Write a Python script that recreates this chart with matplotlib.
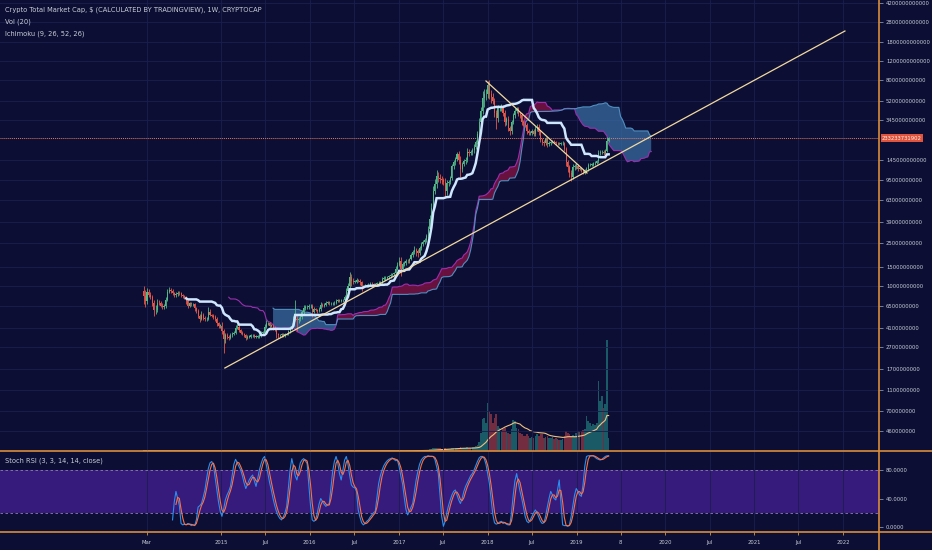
import numpy as np
import pandas as pd
import matplotlib
matplotlib.use("Agg")
import matplotlib.pyplot as plt
from matplotlib import font_manager
from matplotlib.lines import Line2D
from matplotlib.transforms import blended_transform_factory

# ---------------- data (weekly, values in billions USD) ----------------
first_week = "2014-02-17"
first_open = 9.0

close_2014 = [8.0, 7.2, 8.8, 8.3, 7.9, 6.9, 6.0, 6.0, 7.0, 6.9, 6.6, 6.4, 6.5, 7.5, 8.8, 9.2,
              9.0, 8.6, 8.2, 8.4, 8.7, 8.6, 8.2, 8.0, 7.8, 7.2, 6.6, 6.9, 6.8, 6.8, 6.2, 5.9,
              5.3, 5.0, 5.4, 5.1, 4.9, 5.0, 5.8, 5.4, 5.3, 5.2, 5.0, 4.5, 4.3, 4.3]
close_2015 = [3.8, 3.2, 3.5, 3.4, 3.3, 3.5, 3.6, 3.7, 4.1, 4.2, 3.9, 3.7, 3.6, 3.5, 3.3, 3.4,
              3.4, 3.5, 3.5, 3.4, 3.4, 3.4, 3.5, 3.7, 3.7, 4.2, 4.5, 4.5, 4.3, 4.3, 4.1, 4.0,
              3.6, 3.5, 3.5, 3.6, 3.5, 3.6, 3.6, 3.8, 4.1, 4.3, 5.0, 5.0, 4.8, 4.9, 5.2, 5.7,
              6.3, 6.4, 6.4, 6.5]
close_2016 = [6.5, 5.8, 6.1, 6.0, 5.9, 6.1, 6.7, 6.6, 6.7, 7.0, 7.1, 6.9, 6.9, 6.9, 7.0, 7.3,
              7.4, 7.3, 7.4, 7.4, 7.9, 9.0, 9.9, 12.0, 11.2, 11.0, 11.0, 11.3, 11.2, 10.8, 9.9,
              10.0, 10.1, 10.2, 10.3, 10.5, 10.4, 10.3, 10.4, 10.6, 10.7, 10.8, 11.6, 11.8,
              11.9, 12.0, 12.3, 12.7, 12.9, 13.2, 14.5, 15.8]
close_2017 = [17.0, 14.5, 16.0, 16.3, 17.2, 17.0, 17.8, 19.3, 20.5, 21.5, 21.0, 20.0, 22.5,
              24.5, 25.5, 26.5, 29.0, 34.0, 42.0, 53.0, 75.0, 88.0, 105, 100, 98, 95, 92, 76,
              90, 92, 100, 128, 140, 150, 165, 145, 120, 135, 142, 148, 175, 170, 172, 180,
              195, 215, 255, 330, 420, 550, 600, 600]
close_2018 = [720, 600, 560, 520, 400, 360, 440, 440, 450, 400, 330, 350, 290, 270, 330, 380,
              420, 430, 390, 380, 330, 320, 310, 270, 260, 260, 270, 255, 285, 295, 265, 225,
              215, 210, 230, 205, 210, 215, 220, 215, 210, 210, 208, 210, 210, 185, 140, 125,
              110, 103, 125, 128]
close_2019 = [130, 122, 122, 118, 113, 118, 122, 132, 133, 133, 137, 138, 142, 170, 172, 175,
              170, 178, 220, 233.233731902]

# wick sizes, percent beyond the candle body
upper_2014 = [12, 15, 8, 6, 5, 5, 8, 12, 8, 5, 5, 5, 4, 6, 6, 6, 4, 4, 3, 4, 4, 3, 3, 3, 3, 3,
              4, 3, 3, 3, 3, 3, 4, 5, 8, 4, 3, 4, 10, 5, 3, 4, 3, 3, 3, 4]
lower_2014 = [15, 12, 5, 4, 5, 6, 12, 8, 4, 4, 4, 5, 4, 3, 3, 3, 4, 4, 3, 3, 3, 3, 3, 3, 3, 6,
              5, 3, 3, 3, 5, 4, 5, 8, 4, 5, 4, 3, 3, 3, 3, 4, 6, 5, 4, 4]
upper_2015 = [8, 5, 6, 4, 4, 4, 4, 4, 6, 5, 3, 3, 3, 3, 3, 3, 3, 3, 3, 3, 3, 3, 3, 3, 3, 5,
              8, 4, 3, 4, 3, 3, 3, 3, 3, 3, 3, 3, 3, 3, 4, 5, 6, 50, 8, 5, 5, 6, 6, 5, 4, 4]
lower_2015 = [5, 25, 8, 5, 5, 3, 3, 3, 3, 3, 4, 3, 3, 3, 4, 3, 3, 3, 3, 3, 3, 3, 3, 3, 3, 3,
              3, 4, 4, 3, 4, 4, 8, 6, 3, 3, 3, 3, 3, 3, 3, 3, 3, 5, 20, 5, 4, 4, 4, 4, 4, 4]
upper_2016 = [4, 4, 4, 3, 3, 4, 6, 3, 4, 3, 3, 3, 3, 3, 3, 3, 3, 3, 3, 3, 5, 6, 8, 12, 8, 5,
              4, 4, 3, 3, 3, 3, 3, 3, 3, 3, 3, 3, 3, 3, 3, 3, 4, 4, 3, 3, 3, 3, 3, 3, 5, 5]
lower_2016 = [4, 10, 3, 3, 4, 3, 3, 4, 3, 3, 3, 3, 3, 3, 3, 3, 3, 3, 3, 3, 3, 3, 3, 5, 10, 5,
              4, 4, 3, 5, 10, 3, 3, 3, 3, 3, 3, 3, 3, 3, 3, 3, 3, 3, 3, 3, 3, 3, 3, 3, 3, 3]
upper_2017 = [10, 8, 5, 4, 4, 4, 3, 4, 4, 8, 5, 4, 4, 4, 4, 4, 5, 6, 8, 10, 12, 10, 12, 8, 8,
              6, 6, 8, 6, 5, 5, 6, 5, 5, 6, 8, 10, 5, 5, 5, 8, 6, 5, 5, 5, 5, 6, 8, 8, 15, 12, 10]
lower_2017 = [4, 15, 5, 4, 4, 4, 4, 3, 3, 4, 10, 8, 4, 4, 4, 4, 4, 4, 5, 6, 8, 6, 8, 8, 8, 8,
              6, 12, 8, 6, 5, 5, 5, 5, 5, 8, 15, 6, 5, 5, 5, 6, 5, 5, 5, 5, 5, 8, 6, 8, 18, 12]
upper_2018 = [10, 12, 8, 8, 6, 6, 8, 6, 8, 6, 6, 5, 6, 5, 5, 5, 6, 5, 5, 5, 4, 4, 4, 5, 4, 4,
              5, 4, 5, 6, 6, 4, 4, 4, 5, 4, 5, 3, 3, 3, 3, 3, 3, 3, 4, 3, 4, 5, 6, 8, 8, 5]
lower_2018 = [8, 10, 12, 8, 8, 22, 8, 6, 6, 6, 8, 6, 6, 8, 5, 5, 5, 5, 5, 6, 6, 5, 5, 6, 5, 4,
              4, 5, 4, 4, 5, 5, 6, 5, 4, 5, 4, 3, 3, 3, 3, 3, 3, 3, 3, 4, 8, 10, 8, 10, 5, 5]
upper_2019 = [6, 4, 3, 3, 3, 3, 4, 4, 3, 3, 3, 3, 3, 6, 5, 4, 4, 4, 8, 2]
lower_2019 = [5, 4, 3, 3, 4, 3, 3, 4, 3, 3, 3, 3, 3, 3, 4, 3, 4, 3, 3, 2]

# weekly volume (relative units)
vol_2014 = [0.6, 0.5, 0.5, 0.4, 0.4, 0.5, 0.6, 0.5, 0.4, 0.4, 0.3, 0.3, 0.3, 0.4, 0.5, 0.5,
            0.4, 0.3, 0.3, 0.3, 0.3, 0.3, 0.3, 0.3, 0.3, 0.3, 0.4, 0.3, 0.3, 0.3, 0.3, 0.4,
            0.4, 0.4, 0.4, 0.3, 0.3, 0.3, 0.4, 0.3, 0.3, 0.3, 0.3, 0.3, 0.3, 0.3]
vol_2015 = [0.5, 0.8, 0.5, 0.4, 0.3, 0.3, 0.3, 0.3, 0.4, 0.4, 0.3, 0.3, 0.3, 0.3, 0.3, 0.3,
            0.3, 0.3, 0.3, 0.3, 0.3, 0.3, 0.3, 0.3, 0.3, 0.4, 0.4, 0.4, 0.3, 0.3, 0.3, 0.3,
            0.4, 0.3, 0.3, 0.3, 0.3, 0.3, 0.3, 0.3, 0.4, 0.4, 0.6, 1.0, 0.7, 0.5, 0.5, 0.5,
            0.6, 0.5, 0.5, 0.4]
vol_2016 = [0.5, 0.6, 0.5, 0.4, 0.4, 0.4, 0.5, 0.5, 0.5, 0.5, 0.5, 0.4, 0.4, 0.4, 0.4, 0.4,
            0.4, 0.4, 0.4, 0.4, 0.5, 0.6, 0.8, 1.2, 1.0, 0.8, 0.6, 0.6, 0.6, 0.5, 0.8, 0.6,
            0.5, 0.5, 0.5, 0.5, 0.5, 0.5, 0.5, 0.5, 0.5, 0.5, 0.6, 0.6, 0.6, 0.6, 0.6, 0.6,
            0.6, 0.7, 0.9, 1.0]
vol_2017 = [1.5, 2.0, 1.2, 1.0, 1.0, 1.0, 1.0, 1.2, 1.3, 1.8, 1.8, 1.5, 1.5, 1.8, 1.8, 2.0,
            2.5, 3.0, 4.5, 6.0, 8.0, 8.0, 10, 9, 8, 7, 7, 9, 7, 6, 6, 9, 8, 8, 9, 10,
            12, 9, 8, 8, 11, 10, 10, 11, 13, 14, 18, 28, 55, 95, 100, 85]
vol_2018 = [145, 120, 110, 85, 100, 110, 75, 70, 60, 65, 70, 60, 55, 50, 65, 93, 90, 70, 65,
            55, 50, 45, 45, 50, 45, 40, 42, 40, 45, 50, 45, 50, 50, 40, 42, 45, 38, 40, 42,
            35, 38, 35, 33, 32, 35, 45, 60, 55, 50, 45, 48, 45]
vol_2019 = [55, 60, 58, 60, 62, 65, 105, 90, 85, 75, 80, 78, 85, 210, 150, 165, 130, 140, 333, 40]

# Stoch RSI %K read from the lower pane (None = not yet defined)
stoch_k_2014 = [None] * 17 + [10, 35, 50, 40, 30, 5, 3, 4, 3, 5, 4, 2, 3, 2, 10, 28, 30, 33, 42,
                              52, 68, 82, 90, 92, 87, 70, 52, 35, 22]
stoch_k_2015 = [15, 25, 38, 45, 50, 57, 72, 88, 95, 90, 85, 80, 72, 62, 54, 60, 66, 70, 73, 65,
                57, 68, 80, 89, 96, 99, 88, 75, 62, 52, 40, 30, 22, 16, 12, 10, 14, 20, 29, 55,
                80, 96, 85, 72, 66, 78, 90, 94, 96, 93, 89, 60]
stoch_k_2016 = [30, 10, 8, 10, 20, 32, 40, 36, 32, 29, 31, 33, 55, 78, 92, 99, 90, 75, 66, 80,
                94, 99, 88, 72, 59, 56, 55, 50, 24, 14, 6, 3, 5, 8, 10, 14, 17, 20, 22, 42,
                61, 72, 80, 86, 90, 93, 95, 96, 97, 95, 93, 94]
stoch_k_2017 = [85, 72, 61, 42, 25, 17, 22, 28, 33, 50, 66, 78, 88, 94, 97, 99, 99, 100, 99, 99,
                99, 95, 85, 75, 45, 15, 1, 8, 20, 30, 38, 45, 50, 52, 45, 38, 33, 40, 50, 57,
                62, 67, 72, 75, 80, 86, 92, 97, 99, 99, 96, 88]
stoch_k_2018 = [75, 61, 40, 18, 6, 4, 5, 7, 8, 5, 6, 4, 3, 3, 20, 45, 65, 75, 62, 50,
                40, 28, 15, 8, 6, 10, 15, 20, 24, 20, 14, 8, 5, 6, 15, 28, 40, 50, 45, 40,
                38, 52, 66, 35, 3, 2, 2, 1, 3, 15, 30, 45]
stoch_k_2019 = [54, 50, 45, 43, 60, 85, 99, 100, 100, 100, 100, 98, 96, 95, 94, 95, 97, 99, 100, 100]

# hand-drawn trend lines (date, price)
trend_up_dates = ["2015-01-17", "2022-01-08"]
trend_up_values = [1.743e9, 2.288e12]
trend_down_dates = ["2017-12-25", "2019-02-13"]
trend_down_values = [7.89e11, 1.111e11]

price_ticks = [4.2e12, 2.8e12, 1.8e12, 1.2e12, 8.0e11, 5.2e11, 3.45e11, 1.45e11, 9.5e10,
               6.3e10, 3.9e10, 2.5e10, 1.5e10, 1.0e10, 6.5e9, 4.1e9, 2.7e9, 1.7e9, 1.1e9,
               7.0e8, 4.6e8]
stoch_ticks = [0, 40, 80]
time_ticks = ["2014-03-01", "2015-01-01", "2015-07-01", "2016-01-01", "2016-07-01",
              "2017-01-01", "2017-07-01", "2018-01-01", "2018-07-01", "2019-01-01",
              "2019-07-01", "2020-01-01", "2020-07-01", "2021-01-01", "2021-07-01", "2022-01-01"]
time_labels = ["Mar", "2015", "Jul", "2016", "Jul", "2017", "Jul", "2018", "Jul", "2019",
               "8", "2020", "Jul", "2021", "Jul", "2022"]

title_text = "Crypto Total Market Cap, $ (CALCULATED BY TRADINGVIEW), 1W, CRYPTOCAP"
vol_text = "Vol (20)"
ichi_text = "Ichimoku (9, 26, 52, 26)"
stoch_text = "Stoch RSI (3, 3, 14, 14, close)"

# ---------------- assemble ----------------
closes = np.array(close_2014 + close_2015 + close_2016 + close_2017 + close_2018 + close_2019) * 1e9
upper = np.array(upper_2014 + upper_2015 + upper_2016 + upper_2017 + upper_2018 + upper_2019) / 100.0
lower = np.array(lower_2014 + lower_2015 + lower_2016 + lower_2017 + lower_2018 + lower_2019) / 100.0
volume = np.array(vol_2014 + vol_2015 + vol_2016 + vol_2017 + vol_2018 + vol_2019, dtype=float)
stoch_k = pd.Series(stoch_k_2014 + stoch_k_2015 + stoch_k_2016 + stoch_k_2017 + stoch_k_2018
                    + stoch_k_2019, dtype=float)
n = len(closes)
assert len(upper) == n and len(lower) == n and len(volume) == n and len(stoch_k) == n

opens = np.concatenate([[first_open * 1e9], closes[:-1]])
highs = np.maximum(opens, closes) * (1 + upper)
lows = np.minimum(opens, closes) * (1 - lower)
dates = pd.date_range(first_week, periods=n, freq="7D")
up = closes >= opens

# Ichimoku (9, 26, 52, 26)
H = pd.Series(highs)
L = pd.Series(lows)
tenkan = (H.rolling(9).max() + L.rolling(9).min()) / 2
kijun = (H.rolling(26).max() + L.rolling(26).min()) / 2
span_a = ((tenkan + kijun) / 2).values
span_b = ((H.rolling(52).max() + L.rolling(52).min()) / 2).values
disp = 25
cloud_dates = pd.date_range(first_week, periods=n + disp, freq="7D")[disp:]

vol_ma = pd.Series(volume).rolling(20, min_periods=1).mean()
stoch_d = stoch_k.rolling(3).mean()

# ---------------- style ----------------
names = {f.name for f in font_manager.fontManager.ttflist}
condensed = [f for f in font_manager.fontManager.ttflist
             if ("Condensed" in f.fname or "Narrow" in f.fname)
             and "Bold" not in f.fname and "Oblique" not in f.fname and "Italic" not in f.fname]
if "Liberation Sans Narrow" in names:
    plt.rcParams["font.family"] = ["Liberation Sans Narrow", "DejaVu Sans"]
elif condensed:
    plt.rcParams["font.family"] = [condensed[0].name, "DejaVu Sans"]
    plt.rcParams["font.stretch"] = condensed[0].stretch
else:
    plt.rcParams["font.family"] = ["Liberation Sans", "DejaVu Sans"]

BG = "#0c0f33"
GRID = "#1a1f50"
TXT = "#c9ccd8"
ORANGE = "#d98c3a"
W, Hh = 932, 550

fig = plt.figure(figsize=(W / 100, Hh / 100), dpi=100, facecolor=BG)
main_pos = [0, 1 - 451 / Hh, 879 / W, 451 / Hh]
st_pos = [0, 1 - 532 / Hh, 879 / W, 81 / Hh]

ax_vol = fig.add_axes(main_pos)
ax = fig.add_axes(main_pos, sharex=ax_vol)
ax_st = fig.add_axes(st_pos, sharex=ax_vol)

ax_vol.set_facecolor(BG)
ax.patch.set_visible(False)
ax_st.set_facecolor(BG)

xl = (pd.Timestamp("2012-07-07"), pd.Timestamp("2022-05-28"))
tt = pd.to_datetime(time_ticks)

# volume
vol_colors = np.where(up, "#26a69a", "#ef5350")
vol_alpha = np.where(up, 0.5, 0.45)
for d, v, c, a in zip(dates, volume, vol_colors, vol_alpha):
    ax_vol.bar(d, v, width=6.6, color=c, alpha=a, linewidth=0)
ax_vol.plot(dates, vol_ma, color="#f0c080", lw=0.8)
ax_vol.set_ylim(0, volume.max() * 4.06)
ax_vol.set_yticks([])
ax_vol.tick_params(axis="x", length=0, labelbottom=False)
for s in ax_vol.spines.values():
    s.set_visible(False)

# price pane
ax.set_yscale("log")
ax.set_ylim(2.974e8, 4.43e12)
ax.set_xlim(*xl)
ax.set_xticks(tt)
ax.tick_params(axis="x", length=0, labelbottom=False)
ax.grid(True, color=GRID, lw=0.6)
ax.set_axisbelow(True)
for s in ax.spines.values():
    s.set_visible(False)
ax.yaxis.tick_right()
ax.set_yticks(price_ticks)
ax.set_yticklabels([f"{int(round(v))}" for v in price_ticks])
ax.yaxis.set_minor_locator(matplotlib.ticker.NullLocator())
ax.tick_params(axis="y", which="major", colors="#8890a8", labelcolor=TXT, labelsize=5.8,
               length=3, width=0.6, pad=2)

# cloud
A = span_a
B = span_b
ax.fill_between(cloud_dates, A, B, where=A >= B, interpolate=True, color="#7a1240",
                alpha=0.85, lw=0, zorder=2)
ax.fill_between(cloud_dates, A, B, where=A < B, interpolate=True, color="#3b6ea5",
                alpha=0.72, lw=0, zorder=2)
ax.plot(cloud_dates, A, color="#9a2fb0", lw=0.8, zorder=3)
ax.plot(cloud_dates, B, color="#4f8fc0", lw=0.8, zorder=3)

# candles
ccol = np.where(up, "#53b987", "#e8574a")
ax.vlines(dates, lows, highs, colors=ccol, lw=0.6, zorder=4)
body_lo = np.minimum(opens, closes)
body_h = np.abs(closes - opens)
body_h = np.maximum(body_h, body_lo * 0.004)
ax.bar(dates, body_h, bottom=body_lo, width=4.4, color=ccol, lw=0, zorder=5)

# kijun
ax.plot(dates, kijun, color="#cfe6ff", lw=1.8, zorder=6, solid_joinstyle="miter")

# trend lines
ax.plot(pd.to_datetime(trend_up_dates), trend_up_values, color="#f3d9a0", lw=0.9, zorder=7)
ax.plot(pd.to_datetime(trend_down_dates), trend_down_values, color="#f3d9a0", lw=0.9, zorder=7)

# last price line and label
last = closes[-1]
ax.axhline(last, color="#e07a5f", lw=0.7, ls=(0, (1, 1)), zorder=3)
tr = blended_transform_factory(ax.transAxes, ax.transData)
price_lbl = ax.text(1.0 + 3 / 879, last, f"{int(round(last))}", transform=tr, ha="left",
                    va="center", fontsize=5.8, color="#fff1ea", clip_on=False, zorder=10,
                    bbox=dict(boxstyle="square,pad=0.25", fc="#e0533c", ec="none"))

# stoch pane
ax_st.set_ylim(-7.0, 106.7)
ax_st.axhspan(20, 80, color="#361a7c", lw=0, zorder=0)
ax_st.axhline(80, color="#8c80b0", lw=0.6, ls=(0, (3, 3)), zorder=1)
ax_st.axhline(20, color="#8c80b0", lw=0.6, ls=(0, (3, 3)), zorder=1)
ax_st.plot(dates, stoch_k, color="#2a8ff0", lw=0.8, zorder=3)
ax_st.plot(dates, stoch_d, color="#ff7043", lw=0.8, zorder=3)
ax_st.set_xticks(tt)
ax_st.set_xticklabels(time_labels)
ax_st.tick_params(axis="x", colors="#c0a060", labelcolor=TXT, labelsize=5.8, length=2.5,
                  width=0.6, pad=3, direction="out")
ax_st.grid(True, axis="x", color=GRID, lw=0.6)
ax_st.set_axisbelow(True)
ax_st.yaxis.tick_right()
ax_st.set_yticks(stoch_ticks)
ax_st.set_yticklabels([f"{v:.4f}" for v in stoch_ticks])
ax_st.tick_params(axis="y", colors="#8890a8", labelcolor=TXT, labelsize=5.8, length=3,
                  width=0.6, pad=2)
for s in ax_st.spines.values():
    s.set_visible(False)
ax_st.set_xlim(*xl)

# separators
for yy in (451, 532):
    fig.add_artist(Line2D([0, 1], [1 - yy / Hh] * 2, transform=fig.transFigure,
                          color=ORANGE, lw=1.2))
fig.add_artist(Line2D([879 / W] * 2, [0, 1], transform=fig.transFigure, color=ORANGE, lw=1.2))

# legend texts
legend_texts = [
    fig.text(5 / W, 1 - 10 / Hh, title_text, color=TXT, fontsize=6.2, va="center", ha="left"),
    fig.text(5 / W, 1 - 22 / Hh, vol_text, color=TXT, fontsize=6.2, va="center", ha="left"),
    fig.text(5 / W, 1 - 34 / Hh, ichi_text, color=TXT, fontsize=6.2, va="center", ha="left"),
    fig.text(5 / W, 1 - 461 / Hh, stoch_text, color=TXT, fontsize=6.2, va="center", ha="left"),
]

# fit the small axis texts to the reference widths
fig.canvas.draw()
rend = fig.canvas.get_renderer()
w_tick = ax.get_yticklabels()[0].get_window_extent(rend).width
fs_ax = min(6.5, 5.8 * 44.0 / w_tick)
w_title = legend_texts[0].get_window_extent(rend).width
fs_leg = min(7.0, 6.2 * 258.0 / w_title)
ax.tick_params(axis="y", labelsize=fs_ax)
ax_st.tick_params(axis="both", labelsize=fs_ax)
price_lbl.set_fontsize(fs_ax)
for t in legend_texts:
    t.set_fontsize(fs_leg)

fig.savefig("out.png", dpi=100, facecolor=BG)
